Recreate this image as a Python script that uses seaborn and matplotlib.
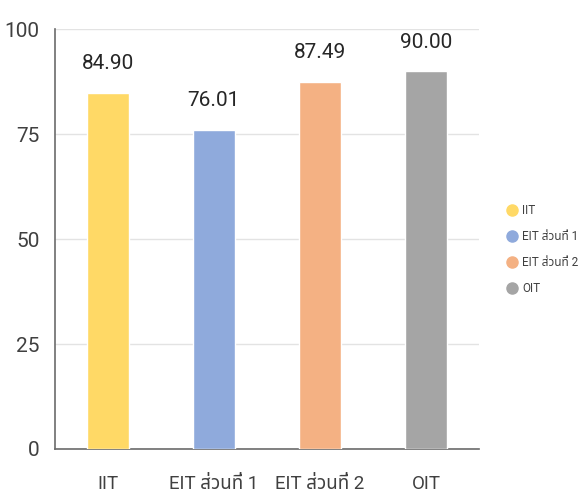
import matplotlib
matplotlib.use("Agg")
import matplotlib.pyplot as plt
from matplotlib.lines import Line2D
import seaborn as sns
import pandas as pd

# chart data
categories = ["IIT", "EIT ส่วนที่ 1", "EIT ส่วนที่ 2", "OIT"]
scores = [84.90, 76.01, 87.49, 90.00]
colors = ["#FFD966", "#8FAADC", "#F4B183", "#A5A5A5"]
yticks = [0, 25, 50, 75, 100]

df = pd.DataFrame({"category": categories, "score": scores})

sns.set_style("white")
plt.rcParams["font.family"] = ["Roboto", "Noto Sans Thai", "DejaVu Sans"]

fig = plt.figure(figsize=(5.84, 4.95), dpi=100)
ax = fig.add_axes([0.094, 0.093, 0.726, 0.848])

sns.barplot(data=df, x="category", y="score", hue="category", palette=colors,
            order=categories, hue_order=categories, width=0.39, legend=False,
            saturation=1, ax=ax, zorder=3)

# value labels above bars
for i, v in enumerate(scores):
    ax.annotate(f"{v:.2f}", (i, v), xytext=(0, 14), textcoords="offset points",
                ha="center", va="bottom", fontsize=15, color="#262626")

ax.set_ylim(0, 100)
ax.set_xlim(-0.5, 3.5)
ax.set_yticks(yticks)
ax.yaxis.grid(True, color="#E3E3E3", linewidth=1, zorder=0)
ax.set_xlabel("")
ax.set_ylabel("")
ax.tick_params(axis="y", length=0, pad=11, labelsize=15, labelcolor="#404040")
ax.tick_params(axis="x", length=0, pad=19, labelsize=13.5, labelcolor="#404040")

for s in ["top", "right"]:
    ax.spines[s].set_visible(False)
ax.spines["left"].set_color("#6b6b6b")
ax.spines["bottom"].set_color("#6b6b6b")
ax.spines["left"].set_linewidth(1.2)
ax.spines["bottom"].set_linewidth(1.2)

handles = [Line2D([], [], marker="o", linestyle="", markersize=8,
                  markerfacecolor=c, markeredgecolor=c) for c in colors]
fig.legend(handles, categories, loc="center left", bbox_to_anchor=(0.856, 0.495),
           frameon=False, fontsize=8.5, handlelength=1, handletextpad=0.4,
           labelspacing=1.1, borderpad=0, labelcolor="#404040")

fig.savefig("out.png", dpi=100)
